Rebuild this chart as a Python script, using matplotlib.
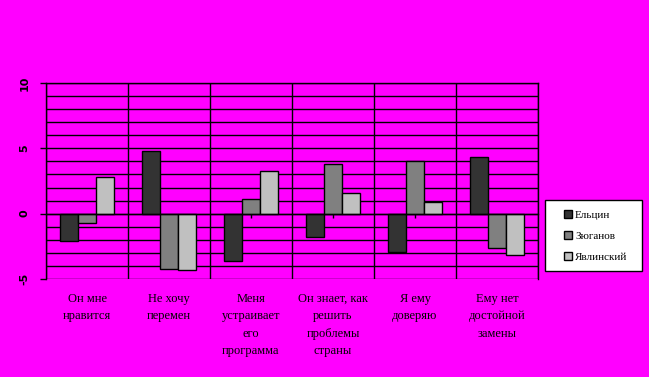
import matplotlib.pyplot as plt
import numpy as np
from matplotlib.patches import Rectangle
from matplotlib.ticker import MultipleLocator, FixedLocator

categories = ['Он мне\nнравится', 'Не хочу\nперемен', 'Меня\nустраивает\nего\nпрограмма',
              'Он знает, как\nрешить\nпроблемы\nстраны', 'Я ему\nдоверяю', 'Ему нет\nдостойной\nзамены']
series_names = ['Ельцин', 'Зюганов', 'Явлинский']
eltsin = [-2.1, 4.8, -3.6, -1.8, -2.9, 4.35]
zyuganov = [-0.75, -4.2, 1.15, 3.8, 4.05, -2.6]
yavlinsky = [2.8, -4.3, 3.3, 1.6, 0.9, -3.15]
yticks = [-5, 0, 5, 10]

colors = ['#333333', '#808080', '#c0c0c0']
bg = '#ff00ff'

plt.rcParams['font.family'] = ['Liberation Serif', 'DejaVu Serif']

fig = plt.figure(figsize=(6.49, 3.77), dpi=100, facecolor=bg)
ax = fig.add_axes([46/649, 1-279/377, (538-46)/649, (279-83)/377])
ax.set_facecolor(bg)

x = np.arange(len(categories))
w = 1/4.5
for k, vals in enumerate([eltsin, zyuganov, yavlinsky]):
    ax.bar(x + (k-1)*w, vals, w, color=colors[k], edgecolor='black', linewidth=1,
           label=series_names[k], zorder=3)

ax.set_xlim(-0.5, len(categories)-0.5)
ax.set_ylim(-5, 10)

ax.yaxis.set_major_locator(FixedLocator(yticks))
ax.yaxis.set_minor_locator(MultipleLocator(1))
ax.set_yticklabels([str(v) for v in yticks], rotation=90, va='center', fontsize=8,
                   family='DejaVu Sans', fontweight='bold')
ax.tick_params(axis='y', which='major', length=4, width=1, direction='out', pad=8)
ax.tick_params(axis='y', which='minor', length=0)
ax.grid(True, axis='y', which='both', color='black', linewidth=1, zorder=1)

ax.xaxis.set_major_locator(FixedLocator(x))
ax.xaxis.set_minor_locator(FixedLocator(np.arange(-0.5, len(categories), 1)))
ax.grid(True, axis='x', which='minor', color='black', linewidth=1, zorder=1)
ax.spines['bottom'].set_position(('data', 0))
ax.spines['bottom'].set_zorder(4)
ax.tick_params(axis='x', which='major', length=3, width=1, direction='out', labelbottom=False)
ax.tick_params(axis='x', which='minor', length=0)
for s in ax.spines.values():
    s.set_linewidth(1)

for i, lab in enumerate(categories):
    ax.text(i, -0.07, lab, transform=ax.get_xaxis_transform(), ha='center', va='top',
            fontsize=9, linespacing=1.6)

fig.patches.append(Rectangle((545/649, 1-271/377), 97/649, 71/377, transform=fig.transFigure,
                             facecolor='white', edgecolor='black', linewidth=1, zorder=5))
leg = fig.legend(loc='center left', bbox_to_anchor=(554/649, 1-236/377), frameon=False,
                 fontsize=8, handlelength=0.7, handleheight=0.7, handletextpad=0.3,
                 labelspacing=1.0)
leg.set_zorder(6)
for h in leg.legend_handles:
    h.set_edgecolor('black')

plt.savefig('out.png', facecolor=bg)
